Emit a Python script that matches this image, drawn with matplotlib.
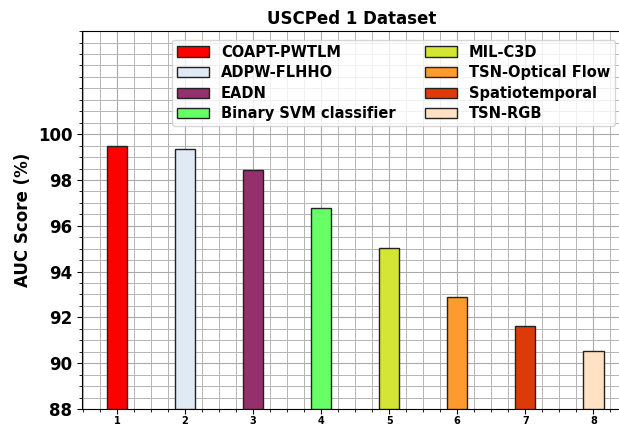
import numpy as np
import matplotlib.pyplot as plt
from matplotlib.ticker import MultipleLocator

methods = ["COAPT-PWTLM", "ADPW-FLHHO", "EADN", "Binary SVM classifier",
           "MIL-C3D", "TSN-Optical Flow", "Spatiotemporal", "TSN-RGB"]
auc = [99.5, 99.37, 98.42, 96.77, 95.03, 92.89, 91.63, 90.55]
colors = ["#ff0000", "#dfeaf4", "#94306b", "#66ff66",
          "#d4e633", "#ff9a2e", "#dd3a0a", "#ffe1c4"]
positions = list(range(1, 9))


def main():
    fig = plt.figure(figsize=(6.19, 4.26), dpi=100)
    ax = fig.add_axes([0.1325, 0.04, 0.87, 0.887])

    for x, v, c, name in zip(positions, auc, colors, methods):
        ax.bar(x, v - 88, bottom=88, width=0.3, color=c,
               edgecolor="#222222", linewidth=1.0, label=name, zorder=3)

    ax.set_xlim(0.487, 8.4)
    ax.set_ylim(88, 104.5)
    ax.set_yticks(np.arange(88, 101, 2))
    ax.yaxis.set_minor_locator(MultipleLocator(0.5))
    ax.set_xticks(positions)
    ax.xaxis.set_minor_locator(MultipleLocator(0.25))
    ax.grid(which="major", color="#aaaaaa", linewidth=0.8, zorder=0)
    ax.grid(which="minor", color="#b4b4b4", linewidth=0.7, zorder=0)
    ax.set_axisbelow(True)
    ax.tick_params(axis="x", which="major", pad=1.5)

    for lab in ax.get_yticklabels():
        lab.set_fontweight("bold")
        lab.set_fontsize(12)
    for lab in ax.get_xticklabels():
        lab.set_fontweight("bold")
        lab.set_fontsize(7)

    ax.set_ylabel("AUC Score (%)", fontsize=12, fontweight="bold")
    ax.set_title("USCPed 1 Dataset", fontsize=12, fontweight="bold", pad=5)

    ax.legend(loc="upper left", bbox_to_anchor=(0.154, 0.997), ncol=2,
              prop={"weight": "bold", "size": 10.5}, framealpha=0.8,
              handlelength=2.2, handletextpad=0.8, columnspacing=2.0,
              labelspacing=0.38, borderpad=0.35)

    fig.savefig("out.png", dpi=100)


if __name__ == "__main__":
    main()
